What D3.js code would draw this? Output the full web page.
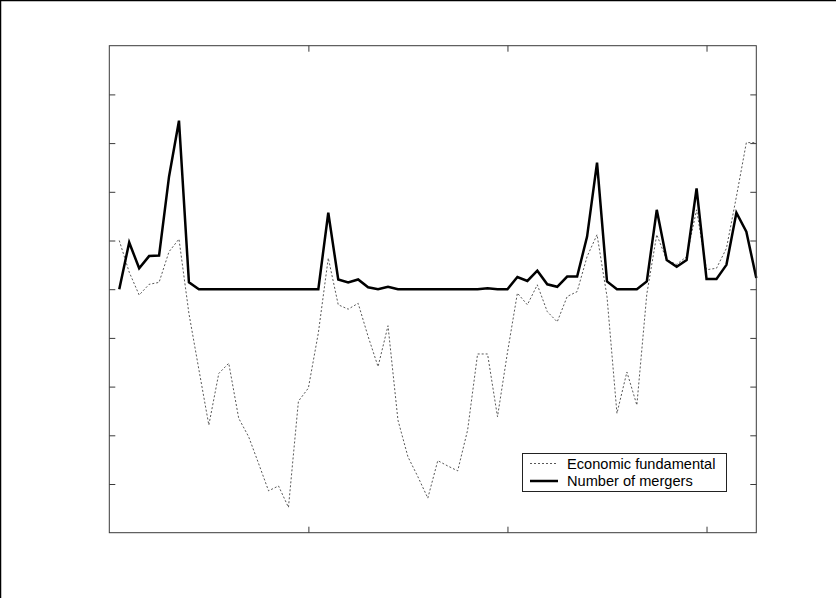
<!DOCTYPE html>
<html>
<head>
<meta charset="utf-8">
<script src="https://cdn.jsdelivr.net/npm/d3@7"></script>
<style>
  html, body { margin: 0; padding: 0; background: #fff; }
  svg { display: block; }
</style>
</head>
<body>
<svg id="chart" width="836" height="598"></svg>
<script>
// ---- Data ----
const periods = [1,2,3,4,5,6,7,8,9,10,11,12,13,14,15,16,17,18,19,20,
  21,22,23,24,25,26,27,28,29,30,31,32,33,34,35,36,37,38,39,40,
  41,42,43,44,45,46,47,48,49,50,51,52,53,54,55,56,57,58,59,60,
  61,62,63,64,65];

const mergers = [0,0.96,0.43,0.68,0.69,2.31,3.46,0.14,0,0,
  0,0,0,0,0,0,0,0,0,0,
  0,1.57,0.2,0.14,0.2,0.04,0,0.05,0,0,
  0,0,0,0,0,0,0,0.02,0,0,
  0.25,0.17,0.38,0.1,0.05,0.26,0.26,1.08,2.6,0.16,
  0,0,0,0.16,1.63,0.6,0.46,0.6,2.07,0.21,
  0.21,0.5,1.57,1.18,0.23];

const fundamental = [1.0,0.35,-0.12,0.1,0.14,0.77,1.03,-0.5,-1.65,-2.79,
  -1.73,-1.52,-2.65,-3.03,-3.58,-4.14,-4.04,-4.48,-2.3,-2.03,
  -0.9,0.64,-0.32,-0.41,-0.29,-0.97,-1.59,-0.75,-2.69,-3.44,
  -3.85,-4.29,-3.52,-3.63,-3.73,-2.89,-1.33,-1.33,-2.62,-1.3,
  -0.08,-0.32,0.09,-0.46,-0.67,-0.15,-0.05,0.67,1.12,-0.15,
  -2.55,-1.7,-2.38,-0.1,1.12,0.6,0.51,0.67,1.63,0.4,
  0.43,0.84,1.9,3.01,3.01];

const xTicks = [20, 40, 60];
const yTicks = [-4,-3,-2,-1,0,1,2,3,4];
const legendLabels = ["Economic fundamental", "Number of mergers"];

// ---- Layout ----
const svg = d3.select("#chart");
const pLeft = 109.3, pRight = 756.3, pTop = 45.7, pBottom = 532.7;

const x = d3.scaleLinear().domain([0, 65]).range([pLeft, pRight]);
const y = d3.scaleLinear().domain([-5, 5]).range([pBottom, pTop]);

// outer frame (left and top edges visible)
svg.append("line").attr("x1", 0.5).attr("y1", 0).attr("x2", 0.5).attr("y2", 598)
  .attr("stroke", "#000").attr("stroke-width", 1.5);
svg.append("line").attr("x1", 0).attr("y1", 0.5).attr("x2", 836).attr("y2", 0.5)
  .attr("stroke", "#000").attr("stroke-width", 1.5);

const axisColor = "#3a3a3a";
function styleAxis(g) {
  g.select(".domain").remove();
  g.selectAll(".tick line").attr("stroke", axisColor).attr("stroke-width", 1);
  g.selectAll(".tick text").remove();
}

// inward ticks on all four sides
svg.append("g").attr("transform", `translate(0,${pBottom})`)
  .call(d3.axisBottom(x).tickValues(xTicks).tickSize(-6).tickFormat(""))
  .call(styleAxis);
svg.append("g").attr("transform", `translate(0,${pTop})`)
  .call(d3.axisTop(x).tickValues(xTicks).tickSize(-6).tickFormat(""))
  .call(styleAxis);
svg.append("g").attr("transform", `translate(${pLeft},0)`)
  .call(d3.axisLeft(y).tickValues(yTicks).tickSize(-6).tickFormat(""))
  .call(styleAxis);
svg.append("g").attr("transform", `translate(${pRight},0)`)
  .call(d3.axisRight(y).tickValues(yTicks).tickSize(-6).tickFormat(""))
  .call(styleAxis);

// lines
const line = d3.line().x(d => x(d[0])).y(d => y(d[1]));
const fundData = periods.map((p, i) => [p, fundamental[i]]);
const mergData = periods.map((p, i) => [p, mergers[i]]);

svg.append("path").datum(fundData)
  .attr("d", line).attr("fill", "none")
  .attr("stroke", "#444").attr("stroke-width", 0.9)
  .attr("stroke-dasharray", "2,2");

svg.append("path").datum(mergData)
  .attr("d", line).attr("fill", "none")
  .attr("stroke", "#000").attr("stroke-width", 2.5)
  .attr("stroke-linejoin", "miter");

// axes box
svg.append("rect")
  .attr("x", pLeft).attr("y", pTop)
  .attr("width", pRight - pLeft).attr("height", pBottom - pTop)
  .attr("fill", "none").attr("stroke", axisColor).attr("stroke-width", 1);

// legend
const lg = svg.append("g");
lg.append("rect").attr("x", 522.5).attr("y", 453.5).attr("width", 204).attr("height", 38)
  .attr("fill", "#fff").attr("stroke", "#222").attr("stroke-width", 1);
lg.append("line").attr("x1", 530).attr("x2", 557).attr("y1", 463.5).attr("y2", 463.5)
  .attr("stroke", "#444").attr("stroke-width", 0.9).attr("stroke-dasharray", "2,2");
lg.append("line").attr("x1", 530).attr("x2", 558).attr("y1", 481).attr("y2", 481)
  .attr("stroke", "#000").attr("stroke-width", 2.5);
lg.selectAll("text").data(legendLabels).enter().append("text")
  .attr("x", 567).attr("y", (d, i) => 468.5 + i * 17.2)
  .attr("font-family", "'Liberation Sans', Arial, sans-serif")
  .attr("font-size", "14.6px").attr("fill", "#000")
  .text(d => d);
</script>
</body>
</html>
